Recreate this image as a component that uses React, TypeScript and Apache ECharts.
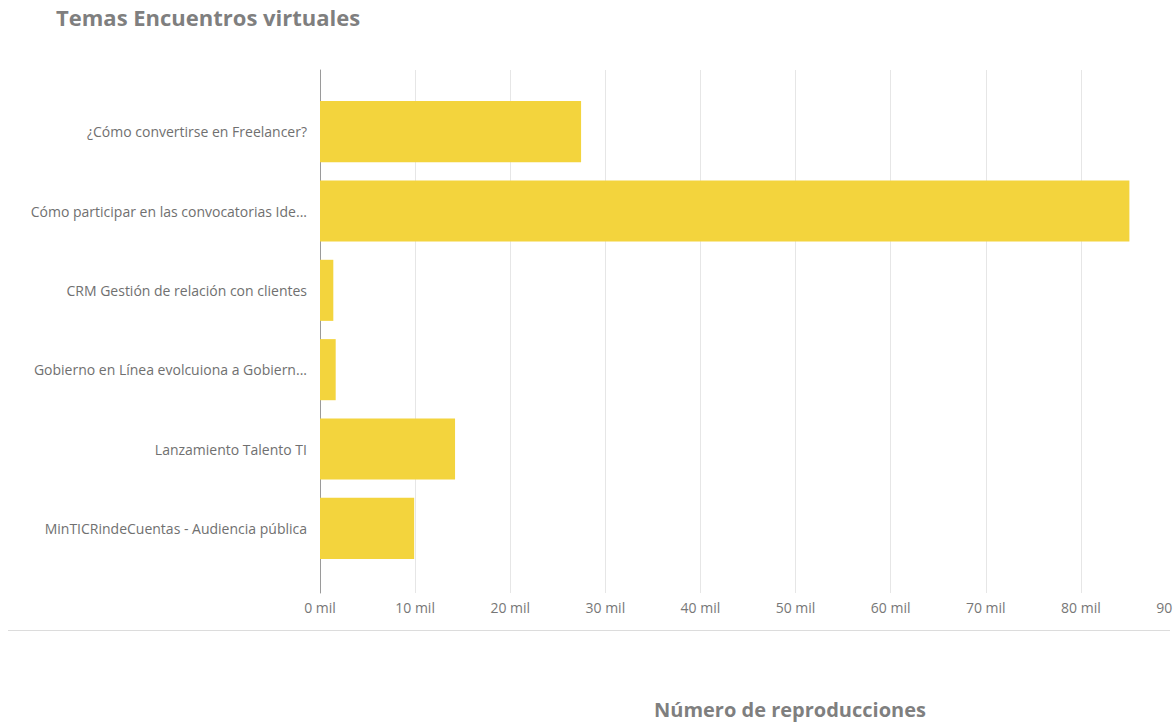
import React, { useEffect, useRef } from "react";
import * as echarts from "echarts";

const categories = [
  "¿Cómo convertirse en Freelancer?",
  "Cómo participar en las convocatorias Ide...",
  "CRM Gestión de relación con clientes",
  "Gobierno en Línea evolcuiona a Gobiern...",
  "Lanzamiento Talento TI",
  "MinTICRindeCuentas - Audiencia pública",
];
const reproducciones = [27450, 85100, 1400, 1650, 14200, 9900];
const axisMax = 90000;
const axisInterval = 10000;
const chartTitle = "Temas Encuentros virtuales";
const axisTitle = "Número de reproducciones";

export default function App() {
  const ref = useRef<HTMLDivElement>(null);
  useEffect(() => {
    if (!ref.current) return;
    const chart = echarts.init(ref.current, null, { renderer: "svg" });
    chart.setOption({
      animation: false,
      backgroundColor: "#ffffff",
      title: [
        {
          text: chartTitle,
          left: 51,
          top: 1,
          textStyle: { fontFamily: "Open Sans", fontWeight: "bold", fontSize: 22, color: "#7f7f7f" },
        },
        {
          text: axisTitle,
          left: 649,
          top: 694,
          textStyle: { fontFamily: "Open Sans", fontWeight: "bold", fontSize: 20, color: "#7f7f7f" },
        },
      ],
      grid: [
        { left: 320, right: 0, top: 70, bottom: 130, outerBoundsMode: "none" },
        { left: 320, right: 0, top: 92, bottom: 155, outerBoundsMode: "none" },
      ],
      xAxis: [
        {
          gridIndex: 0,
          type: "value",
          min: 0,
          max: axisMax,
          interval: axisInterval,
          axisLine: { show: false },
          axisTick: { show: false },
          splitLine: { show: true, lineStyle: { color: "#e6e6e6", width: 1 } },
          axisLabel: {
            margin: 7,
            color: "#777777",
            fontFamily: "Open Sans",
            fontSize: 14,
            formatter: (v: number) => v / 1000 + " mil",
          },
        },
        {
          gridIndex: 1,
          type: "value",
          min: 0,
          max: axisMax,
          show: false,
        },
      ],
      yAxis: [
        {
          gridIndex: 0,
          type: "value",
          axisLine: { show: true, lineStyle: { color: "#9a9a9a", width: 1 } },
          axisTick: { show: false },
          axisLabel: { show: false },
          splitLine: { show: false },
        },
        {
          gridIndex: 1,
          type: "category",
          data: categories,
          inverse: true,
          axisLine: { show: false },
          axisTick: { show: false },
          axisLabel: {
            margin: 13,
            color: "#707070",
            fontFamily: "Open Sans",
            fontSize: 14,
          },
        },
      ],
      series: [
        {
          type: "bar",
          xAxisIndex: 1,
          yAxisIndex: 1,
          data: reproducciones,
          barCategoryGap: "23%",
          itemStyle: { color: "#F3D43D" },
        },
      ],
      graphic: [
        {
          type: "line",
          shape: { x1: 8, y1: 630.5, x2: 1170, y2: 630.5 },
          style: { stroke: "#dcdcdc", lineWidth: 1 },
        },
      ],
    });
    return () => chart.dispose();
  }, []);
  return (
    <div
      ref={ref}
      style={{ position: "fixed", left: 0, top: 0, width: 1176, height: 723 }}
    />
  );
}
